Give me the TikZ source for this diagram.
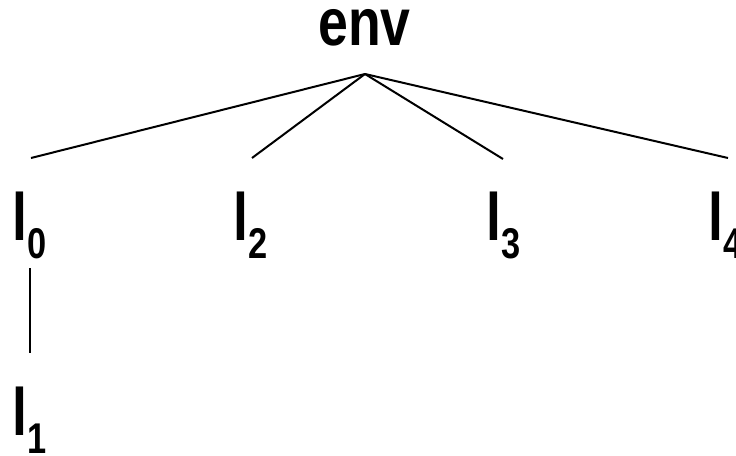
\documentclass[tikz,border=0pt]{standalone}
\usepackage{fontspec}
\setmainfont{Liberation Sans}
\newcommand{\lab}[1]{\scalebox{0.8}[1]{\fontsize{67}{67}\selectfont\bfseries l\raisebox{-18pt}{\fontsize{43}{43}\selectfont #1}}}
\begin{document}
\begin{tikzpicture}[x=1pt,y=-1pt,
  labnode/.style={inner sep=0pt,anchor=base west},
  edge/.style={line width=2pt,black}]
\useasboundingbox (0,0) rectangle (736,455);
\node[labnode] (env) at (318,45) {\scalebox{0.8}[1]{\fontsize{67}{67}\selectfont\bfseries env}};
\node[labnode] (l0) at (12.4,240) {\lab{0}};
\node[labnode] (l2) at (233.4,240) {\lab{2}};
\node[labnode] (l3) at (486.4,240) {\lab{3}};
\node[labnode] (l4) at (708.4,240) {\lab{4}};
\node[labnode] (l1) at (12.4,435) {\lab{1}};
\coordinate (top) at (365,74);
\coordinate (e0) at (31,158);
\coordinate (e2) at (252,158);
\coordinate (e3) at (503,159);
\coordinate (e4) at (728,158);
\coordinate (v0) at (29.5,268);
\coordinate (v1) at (29.5,353);
\draw[edge] (top) -- (e0);
\draw[edge] (top) -- (e2);
\draw[edge] (top) -- (e3);
\draw[edge] (top) -- (e4);
\draw[edge] (v0) -- (v1);
\end{tikzpicture}
\end{document}
